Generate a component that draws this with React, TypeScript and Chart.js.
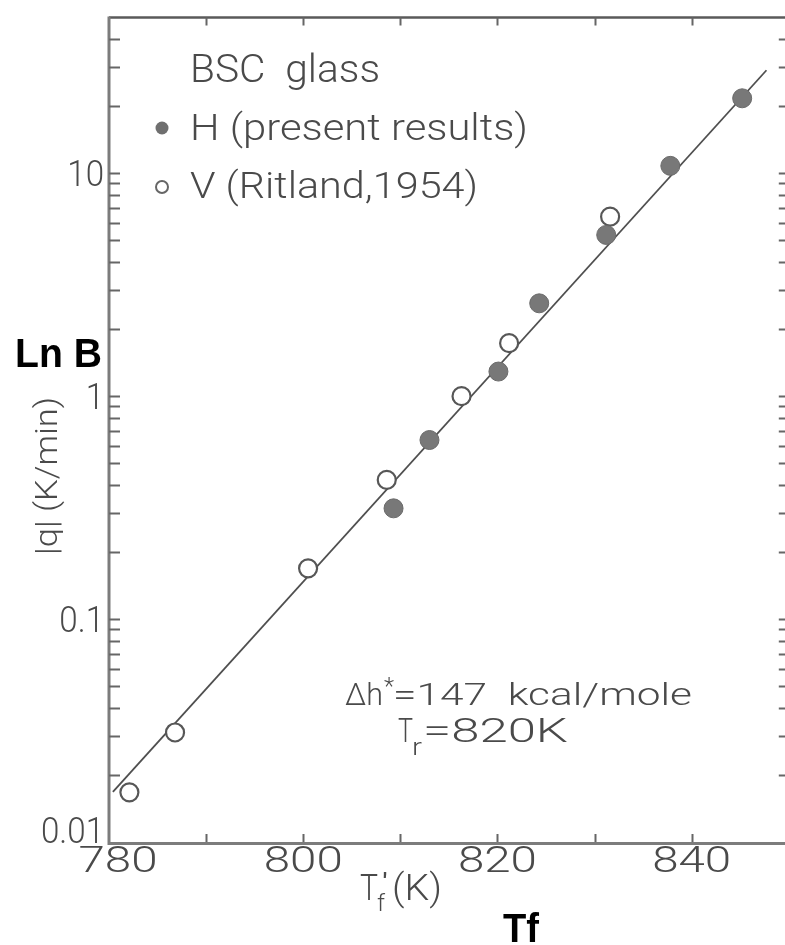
import React, { useEffect, useRef } from "react";
import { Chart, registerables } from "chart.js";

Chart.register(...registerables);

// Heating / cooling rate |q| (K/min) against fictive temperature Tf' (K), BSC glass
const presentTemps = [809.3, 813.0, 820.1, 824.3, 831.2, 837.8, 845.2];
const presentRates = [0.314, 0.636, 1.29, 2.61, 5.29, 10.8, 21.7];
const ritlandTemps = [782.1, 786.8, 800.5, 808.6, 816.3, 821.2, 831.6];
const ritlandRates = [0.0167, 0.031, 0.169, 0.421, 1.0, 1.73, 6.39];

// Fitted Arrhenius line (end points)
const fitTemps = [780.4, 847.7];
const fitRates = [0.0168, 29.0];

const xTickValues = [780, 800, 820, 840];
const xTickLabels = ["780", "800", "820", "840"];
const xMinorTicks = [790, 800, 810, 820, 830, 840];
const yTickValues = [0.01, 0.1, 1, 10];
const yTickLabels = ["0.01", "0.1", "1", "10"];

const legendTitle = "BSC  glass";
const presentLabel = "H (present results)";
const ritlandLabel = "V (Ritland,1954)";
const enthalpyNote = "Δh*=147  kcal/mole";

const X_MIN = 780;
const X_MAX = 850;
const Y_MIN = 0.01;
const Y_MAX = 50;

const INK = "#4a4a4a";
const thin = (size: number) => `300 ${size}px Roboto, 'DejaVu Sans'`;

type TextOpts = { sx?: number; width?: number; align?: "left" | "center" | "right" };

function drawText(
  ctx: CanvasRenderingContext2D,
  text: string,
  x: number,
  y: number,
  font: string,
  opts: TextOpts = {}
) {
  ctx.save();
  ctx.font = font;
  const w = ctx.measureText(text).width;
  const sx = opts.width ? opts.width / w : opts.sx ?? 1;
  const full = w * sx;
  let left = x;
  if (opts.align === "center") left = x - full / 2;
  if (opts.align === "right") left = x - full;
  ctx.translate(left, y);
  ctx.scale(sx, 1);
  ctx.textAlign = "left";
  ctx.textBaseline = "alphabetic";
  ctx.fillText(text, 0, 0);
  ctx.restore();
}

const framePlugin = {
  id: "frameAndNotes",
  afterDraw(chart: any) {
    const ctx: CanvasRenderingContext2D = chart.ctx;
    const { left, right, top, bottom } = chart.chartArea;
    const xs = chart.scales.x;
    const ys = chart.scales.y;

    ctx.save();
    ctx.lineCap = "butt";

    // frame
    ctx.strokeStyle = "#5a5a5a";
    ctx.lineWidth = 2.5;
    ctx.beginPath();
    ctx.moveTo(left, top);
    ctx.lineTo(right, top);
    ctx.stroke();

    ctx.strokeStyle = "#7c7c7c";
    ctx.lineWidth = 3;
    ctx.beginPath();
    ctx.moveTo(left, top - 1);
    ctx.lineTo(left, bottom + 1.5);
    ctx.lineTo(right, bottom + 1.5);
    ctx.stroke();

    ctx.beginPath();
    ctx.moveTo(right, top);
    ctx.lineTo(right, bottom);
    ctx.stroke();

    // log ticks on left and right, pointing inward
    ctx.strokeStyle = "#666";
    ctx.lineWidth = 2;
    for (let e = -2; e <= 1; e++) {
      for (let m = 1; m <= 9; m++) {
        const v = m * Math.pow(10, e);
        if (v <= Y_MIN || v >= Y_MAX) continue;
        const py = Math.round(ys.getPixelForValue(v)) + 0.5;
        ctx.beginPath();
        ctx.moveTo(left, py);
        ctx.lineTo(left + 11, py);
        ctx.moveTo(right, py);
        ctx.lineTo(right - 10, py);
        ctx.stroke();
      }
    }

    // x ticks, top and bottom, pointing inward
    for (const t of xMinorTicks) {
      const px = Math.round(xs.getPixelForValue(t)) + 0.5;
      ctx.beginPath();
      ctx.moveTo(px, bottom);
      ctx.lineTo(px, bottom - 8);
      ctx.moveTo(px, top);
      ctx.lineTo(px, top + 8);
      ctx.stroke();
    }

    ctx.fillStyle = INK;

    // y tick labels
    yTickValues.forEach((v, i) => {
      const py = ys.getPixelForValue(v);
      const base = Math.min(py + 13, bottom + 1);
      drawText(ctx, yTickLabels[i], left - 5, base, thin(36), {
        sx: 0.92,
        align: "right",
      });
    });

    // x tick labels
    xTickValues.forEach((v, i) => {
      const px = Math.max(xs.getPixelForValue(v), left + 9);
      drawText(ctx, xTickLabels[i], px, bottom + 30, thin(37), {
        width: 79,
        align: "center",
      });
    });

    // axis titles
    drawText(ctx, "T", 360, 900, thin(36), { width: 18 });
    drawText(ctx, "f", 377, 911, thin(24), { width: 8 });
    drawText(ctx, "′", 381, 893, thin(28), { width: 8 });
    drawText(ctx, "(K)", 392, 900, thin(36), { width: 50 });

    ctx.save();
    ctx.translate(57, 476);
    ctx.rotate(-Math.PI / 2);
    drawText(ctx, "|q| (K/min)", 0, 0, thin(32), { width: 158, align: "center" });
    ctx.restore();

    // legend block
    drawText(ctx, legendTitle, 190, 82, thin(38), { width: 190 });
    ctx.beginPath();
    ctx.arc(162, 128, 6.5, 0, Math.PI * 2);
    ctx.fillStyle = "#6f6f6f";
    ctx.fill();
    ctx.fillStyle = INK;
    drawText(ctx, presentLabel, 190, 140, thin(36), { width: 338 });
    ctx.beginPath();
    ctx.arc(162, 187, 6, 0, Math.PI * 2);
    ctx.fillStyle = "#fff";
    ctx.fill();
    ctx.strokeStyle = "#666";
    ctx.lineWidth = 2;
    ctx.stroke();
    ctx.fillStyle = INK;
    drawText(ctx, ritlandLabel, 190, 198, thin(36), { width: 288 });

    // activation enthalpy and reference temperature
    drawText(ctx, "Δh", 345, 705, thin(31), { width: 38 });
    drawText(ctx, "*", 384, 694, thin(24), { width: 10 });
    drawText(ctx, enthalpyNote.slice(3), 393, 705, thin(31), { width: 299 });
    drawText(ctx, "T", 398, 742, thin(33), { width: 15 });
    drawText(ctx, "r", 412, 755, thin(23), { width: 10 });
    drawText(ctx, "=820K", 423, 742, thin(33), { width: 145 });

    // bold overlay labels
    ctx.fillStyle = "#000";
    drawText(ctx, "Ln B", 15, 367, "bold 40px 'Liberation Sans'", { width: 87 });
    drawText(ctx, "Tf", 503, 942, "bold 40px 'Liberation Sans'", { width: 36 });

    ctx.restore();
  },
};

export default function App() {
  const canvasRef = useRef<HTMLCanvasElement | null>(null);

  useEffect(() => {
    const canvas = canvasRef.current;
    if (!canvas) return;

    const chart = new Chart(canvas, {
      type: "scatter",
      data: {
        datasets: [
          {
            label: "fit",
            data: fitTemps.map((t, i) => ({ x: t, y: fitRates[i] })),
            showLine: true,
            borderColor: "#4f4f4f",
            borderWidth: 1.8,
            pointRadius: 0,
            order: 3,
          },
          {
            label: ritlandLabel,
            data: ritlandTemps.map((t, i) => ({ x: t, y: ritlandRates[i] })),
            pointRadius: 9,
            backgroundColor: "#ffffff",
            borderColor: "#575757",
            borderWidth: 2.2,
            order: 2,
          },
          {
            label: presentLabel,
            data: presentTemps.map((t, i) => ({ x: t, y: presentRates[i] })),
            pointRadius: 9.5,
            backgroundColor: "#787878",
            borderColor: "#6a6a6a",
            borderWidth: 1,
            order: 1,
          },
        ],
      },
      options: {
        animation: false,
        responsive: false,
        devicePixelRatio: 1,
        events: [],
        layout: { padding: { left: 109, top: 17.5, right: 11, bottom: 103 } },
        plugins: {
          legend: { display: false },
          tooltip: { enabled: false },
        },
        scales: {
          x: { type: "linear", min: X_MIN, max: X_MAX, display: false },
          y: { type: "logarithmic", min: Y_MIN, max: Y_MAX, display: false },
        },
      },
      plugins: [framePlugin],
    });

    return () => chart.destroy();
  }, []);

  return (
    <div
      style={{
        position: "fixed",
        left: 0,
        top: 0,
        width: 785,
        height: 945,
        overflow: "hidden",
        background: "#ffffff",
      }}
    >
      <canvas ref={canvasRef} width={800} height={945} style={{ width: 800, height: 945, display: "block" }} />
    </div>
  );
}
